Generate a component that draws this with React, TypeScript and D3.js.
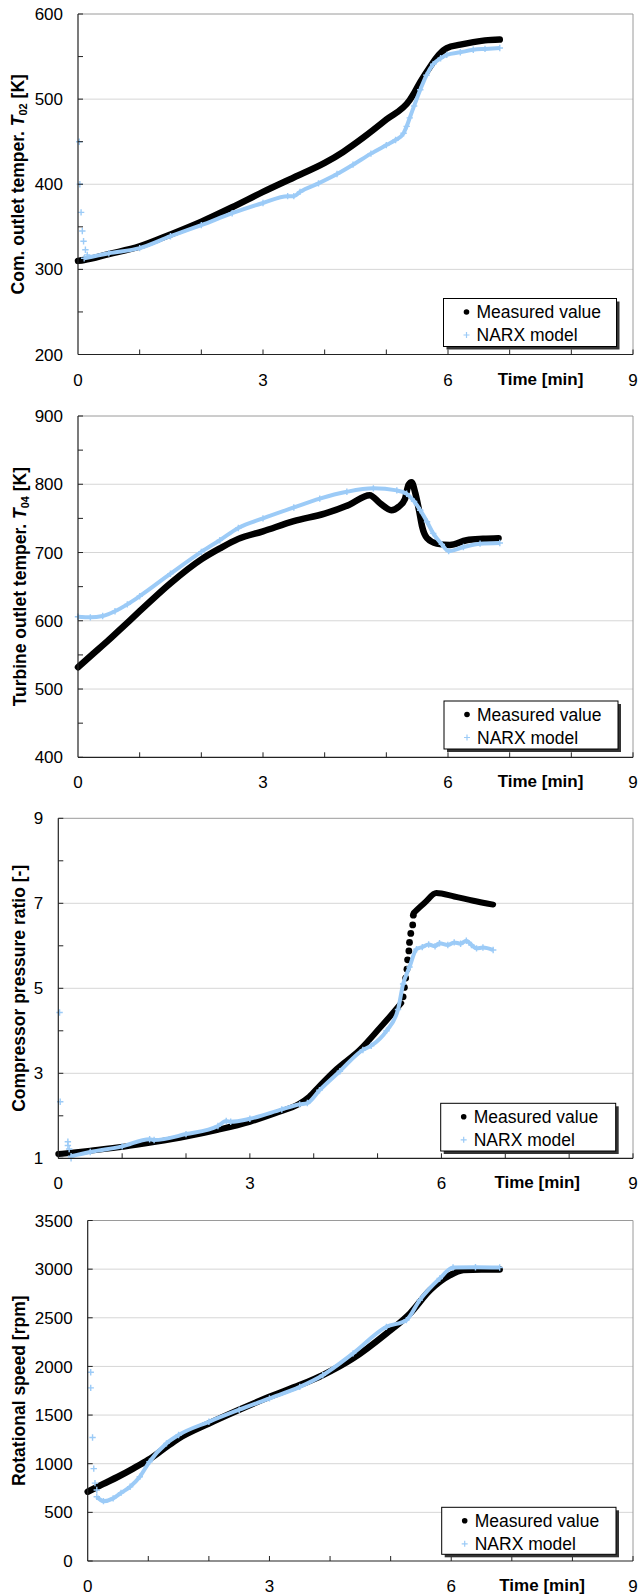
import React from "react";
import * as d3 from "d3";

// ---------- DATA ----------
const xTickLabels = [0, 3, 6, 9];
const xMinorTicks = [1, 2, 3, 4, 5, 6, 7, 8, 9];

// Panel 1: compressor outlet temperature T02 [K]
const p1YTicks = [200, 300, 400, 500, 600];
const p1YMinor = [250, 350, 450, 550];
const p1Measured: [number, number][] = [
  [0, 310], [0.1, 311], [0.5, 318], [1, 327], [1.5, 341], [2, 356], [2.5, 373], [3, 391],
  [3.5, 408], [4, 425], [4.3, 438], [4.63, 455], [5, 476], [5.38, 499], [5.45, 507],
  [5.55, 520], [5.71, 538], [5.85, 552], [5.98, 560], [6.2, 564], [6.41, 567], [6.6, 569], [6.84, 570],
];
const p1NarxOutliers: [number, number][] = [
  [0.02, 450], [0.03, 400], [0.05, 367], [0.07, 345], [0.09, 333], [0.12, 323], [0.15, 317],
];
const p1Narx: [number, number][] = [
  [0.1, 313], [0.5, 319], [1, 325], [1.5, 339], [2, 352], [2.5, 366], [3, 378], [3.4, 386],
  [3.5, 386], [3.6, 391], [3.9, 401], [4.2, 412], [4.46, 423], [4.75, 436], [5.0, 446],
  [5.15, 452], [5.28, 460], [5.33, 468], [5.38, 478], [5.45, 492], [5.55, 511], [5.65, 528],
  [5.76, 541], [5.88, 548], [5.98, 552], [6.2, 555], [6.41, 558], [6.6, 559], [6.84, 560],
];

// Panel 2: turbine outlet temperature T04 [K]
const p2YTicks = [400, 500, 600, 700, 800, 900];
const p2YMinor = [450, 550, 650, 750, 850];
const p2Measured: [number, number][] = [
  [0, 532], [0.25, 552], [0.5, 572], [0.75, 593], [1, 614], [1.5, 655], [2, 690], [2.3, 706],
  [2.6, 720], [3, 731], [3.5, 746], [4, 757], [4.4, 770], [4.73, 784], [4.9, 772], [5.08, 762],
  [5.2, 767], [5.3, 778], [5.36, 799], [5.41, 803], [5.47, 787], [5.53, 762], [5.58, 738],
  [5.66, 721], [5.82, 713], [6.03, 711], [6.3, 718], [6.57, 720], [6.82, 721],
];
const p2Narx: [number, number][] = [
  [0, 606], [0.2, 605], [0.4, 607], [0.6, 614], [0.8, 624], [1, 636], [1.5, 669], [2, 701],
  [2.3, 718], [2.6, 736], [3, 750], [3.5, 766], [3.92, 779], [4.36, 789], [4.79, 794],
  [5.17, 791], [5.33, 786], [5.45, 775], [5.55, 762], [5.66, 745], [5.76, 728], [5.9, 712],
  [6.01, 702], [6.25, 708], [6.52, 713], [6.84, 714],
];

// Panel 3: compressor pressure ratio [-]
const p3YTicks = [1, 3, 5, 7, 9];
const p3YMinor = [2, 4, 6, 8];
const p3MeasuredA: [number, number][] = [
  [0, 1.1], [0.5, 1.18], [1.02, 1.27], [1.5, 1.38], [2, 1.51], [2.5, 1.67], [3, 1.86],
  [3.4, 2.06], [3.78, 2.29], [3.93, 2.45], [4.09, 2.7], [4.36, 3.1], [4.72, 3.55],
  [5.03, 4.06], [5.2, 4.35], [5.37, 4.65],
];
const p3MeasuredJump: [number, number][] = [
  [5.4, 4.8], [5.42, 5.02], [5.44, 5.24], [5.46, 5.45], [5.47, 5.67], [5.49, 5.88],
  [5.5, 6.08], [5.52, 6.29], [5.55, 6.49], [5.56, 6.72],
];
const p3MeasuredB: [number, number][] = [
  [5.57, 6.78], [5.75, 7.03], [5.92, 7.24], [6.2, 7.16], [6.5, 7.06], [6.81, 6.97],
];
const p3NarxOutliers: [number, number][] = [
  [0.02, 4.43], [0.03, 2.33], [0.15, 1.39], [0.15, 1.3], [0.17, 1.22], [0.2, 1.0],
];
const p3Narx: [number, number][] = [
  [0.2, 1.05], [0.5, 1.15], [1, 1.28], [1.43, 1.45], [1.5, 1.43], [2, 1.57], [2.5, 1.76],
  [2.63, 1.88], [2.7, 1.86], [3, 1.93], [3.5, 2.15], [3.78, 2.27], [3.9, 2.3], [4.09, 2.6],
  [4.41, 3.05], [4.77, 3.55], [4.9, 3.65], [5.14, 4.0], [5.32, 4.5], [5.4, 5.1], [5.5, 5.5],
  [5.61, 5.92], [5.7, 5.97], [5.8, 6.03], [5.9, 5.99], [5.97, 6.06], [6.1, 6.02], [6.2, 6.08],
  [6.3, 6.05], [6.39, 6.12], [6.47, 6.02], [6.55, 5.94], [6.65, 5.96], [6.81, 5.9],
];

// Panel 4: rotational speed [rpm]
const p4YTicks = [0, 500, 1000, 1500, 2000, 2500, 3000, 3500];
const p4YMinor: number[] = [];
const p4Measured: [number, number][] = [
  [0, 712], [0.25, 790], [0.5, 866], [0.75, 950], [1, 1040], [1.25, 1150], [1.5, 1260],
  [2, 1414], [2.5, 1555], [3, 1688], [3.5, 1808], [3.88, 1911], [4.38, 2083], [4.93, 2339],
  [5.32, 2545], [5.65, 2784], [5.98, 2938], [6.2, 2990], [6.5, 2997], [6.8, 2997],
];
const p4NarxOutliers: [number, number][] = [
  [0.05, 1940], [0.05, 1780], [0.08, 1270], [0.1, 950], [0.12, 800], [0.15, 730],
];
const p4Narx: [number, number][] = [
  [0.15, 660], [0.26, 615], [0.42, 644], [0.55, 700], [0.7, 763], [0.86, 866], [1.02, 1020],
  [1.3, 1209], [1.5, 1295], [2, 1431], [2.5, 1555], [3, 1672], [3.5, 1790], [3.88, 1910],
  [4.38, 2134], [4.93, 2407], [5.26, 2476], [5.48, 2682], [5.81, 2904], [6.03, 3017],
  [6.4, 3020], [6.8, 3017],
];

const legendLabels = ["Measured value", "NARX model"];
const xAxisTitle = "Time [min]";

// ---------- STYLE / LAYOUT ----------
const FONT = "'Liberation Sans', Arial, Helvetica, sans-serif";
const BLACK = "#000";
const BLUE = "#9ccbf7";

type Pt = [number, number];
interface Panel {
  left: number; right: number; top: number; bottom: number;
  yTicks: number[]; yMinor: number[];
  measured: Pt[][]; measuredDots: Pt[]; mWidth: number;
  narx: Pt[]; narxOutliers: Pt[];
  legend: { x: number; y: number; w: number; h: number };
  title: React.ReactNode; titleX: number;
}

const panels: Panel[] = [
  {
    left: 78, right: 633, top: 14, bottom: 354.5,
    yTicks: p1YTicks, yMinor: p1YMinor,
    measured: [p1Measured], measuredDots: [], mWidth: 6.5,
    narx: p1Narx, narxOutliers: p1NarxOutliers,
    legend: { x: 443.5, y: 298.5, w: 173, h: 48 },
    title: (
      <>
        Com. outlet temper. <tspan fontStyle="italic">T</tspan>
        <tspan fontSize="11" dy="3">02</tspan>
        <tspan dy="-3"> [K]</tspan>
      </>
    ),
    titleX: 18,
  },
  {
    left: 78, right: 633, top: 416, bottom: 757.3,
    yTicks: p2YTicks, yMinor: p2YMinor,
    measured: [p2Measured], measuredDots: [], mWidth: 6.5,
    narx: p2Narx, narxOutliers: [],
    legend: { x: 444, y: 701, w: 174, h: 48 },
    title: (
      <>
        Turbine outlet temper. <tspan fontStyle="italic">T</tspan>
        <tspan fontSize="11" dy="3">04</tspan>
        <tspan dy="-3"> [K]</tspan>
      </>
    ),
    titleX: 19.5,
  },
  {
    left: 58.3, right: 633, top: 818.3, bottom: 1158.3,
    yTicks: p3YTicks, yMinor: p3YMinor,
    measured: [p3MeasuredA, p3MeasuredB], measuredDots: p3MeasuredJump, mWidth: 6,
    narx: p3Narx, narxOutliers: p3NarxOutliers,
    legend: { x: 440.7, y: 1103.3, w: 175, h: 47.7 },
    title: <>Compressor pressure ratio [-]</>,
    titleX: 18.5,
  },
  {
    left: 87.7, right: 633, top: 1220.5, bottom: 1561,
    yTicks: p4YTicks, yMinor: p4YMinor,
    measured: [p4Measured], measuredDots: [], mWidth: 6.5,
    narx: p4Narx, narxOutliers: p4NarxOutliers,
    legend: { x: 441.7, y: 1507.3, w: 174.3, h: 47 },
    title: <>Rotational speed [rpm]</>,
    titleX: 19,
  },
];

function Plus({ x, y, s = 3.2, w = 1.4 }: { x: number; y: number; s?: number; w?: number }) {
  return (
    <path d={`M${x - s},${y}H${x + s}M${x},${y - s}V${y + s}`} stroke={BLUE} strokeWidth={w} fill="none" />
  );
}

function ChartPanel({ p }: { p: Panel }) {
  const yd = [p.yTicks[0], p.yTicks[p.yTicks.length - 1]];
  const x = d3.scaleLinear().domain([0, 9]).range([p.left, p.right]);
  const y = d3.scaleLinear().domain(yd).range([p.bottom, p.top]);
  const line = d3.line<Pt>().x((d) => x(d[0])).y((d) => y(d[1])).curve(d3.curveMonotoneX);
  const midY = (p.top + p.bottom) / 2;
  const lg = p.legend;

  return (
    <g>
      {/* gridlines */}
      {p.yTicks.slice(1, -1).map((t) => (
        <line key={"g" + t} x1={p.left} x2={p.right} y1={y(t)} y2={y(t)} stroke="#d6d6d6" strokeWidth={1} />
      ))}
      {/* plot border top/right */}
      <line x1={p.left} x2={p.right} y1={p.top} y2={p.top} stroke="#9a9a9a" strokeWidth={1} />
      <line x1={p.right} x2={p.right} y1={p.top} y2={p.bottom} stroke="#9a9a9a" strokeWidth={1} />

      {/* series: measured */}
      {p.measured.map((seg, k) => (
        <path key={"m" + k} d={line(seg) || ""} stroke={BLACK} strokeWidth={p.mWidth} fill="none"
          strokeLinecap="round" strokeLinejoin="round" />
      ))}
      {p.measuredDots.map((d, i) => (
        <circle key={"d" + i} cx={x(d[0])} cy={y(d[1])} r={3.4} fill={BLACK} />
      ))}

      {/* series: NARX (plotted after, on top) */}
      <path d={line(p.narx) || ""} stroke={BLUE} strokeWidth={4} fill="none" strokeLinejoin="round" />
      {p.narx.map((d, i) => (
        <Plus key={"n" + i} x={x(d[0])} y={y(d[1])} />
      ))}
      {p.narxOutliers.map((d, i) => (
        <Plus key={"o" + i} x={x(d[0])} y={y(d[1])} />
      ))}

      {/* axes */}
      <line x1={p.left} x2={p.left} y1={p.top} y2={p.bottom} stroke="#222" strokeWidth={1.2} />
      <line x1={p.left} x2={p.right} y1={p.bottom} y2={p.bottom} stroke="#222" strokeWidth={1.2} />
      {/* y ticks (inside) */}
      {[...p.yTicks, ...p.yMinor].map((t) => (
        <line key={"yt" + t} x1={p.left} x2={p.left + 5} y1={y(t)} y2={y(t)} stroke="#222" strokeWidth={1} />
      ))}
      {/* x ticks (inside) */}
      {xMinorTicks.map((t) => (
        <line key={"xt" + t} x1={x(t)} x2={x(t)} y1={p.bottom} y2={p.bottom - 5} stroke="#222" strokeWidth={1} />
      ))}

      {/* y tick labels */}
      {p.yTicks.map((t) => (
        <text key={"yl" + t} x={p.left - 15} y={y(t)} dy="0.36em" textAnchor="end"
          fontFamily={FONT} fontSize={17} fill="#000">
          {t}
        </text>
      ))}
      {/* x tick labels */}
      {xTickLabels.map((t) => (
        <text key={"xl" + t} x={x(t)} y={p.bottom + 31} textAnchor="middle" fontFamily={FONT} fontSize={17} fill="#000">
          {t}
        </text>
      ))}
      <text x={x(7.5)} y={p.bottom + 30} textAnchor="middle" fontFamily={FONT} fontSize={17} fontWeight="bold" fill="#000">
        {xAxisTitle}
      </text>

      {/* y title */}
      <text transform={`translate(${p.titleX},${midY}) rotate(-90)`} dy="0.36em" textAnchor="middle"
        fontFamily={FONT} fontSize={17.5} fontWeight="bold" fill="#000">
        {p.title}
      </text>

      {/* legend */}
      <rect x={lg.x + 3} y={lg.y + 3} width={lg.w} height={lg.h} fill="#333" />
      <rect x={lg.x} y={lg.y} width={lg.w} height={lg.h} fill="#fff" stroke="#000" strokeWidth={1} />
      <circle cx={lg.x + 23} cy={lg.y + 13.5} r={2.8} fill={BLACK} />
      <Plus x={lg.x + 23} y={lg.y + 36.5} s={3} w={1.2} />
      {legendLabels.map((l, i) => (
        <text key={l} x={lg.x + 33} y={lg.y + 13.5 + i * 23} dy="0.36em" fontFamily={FONT} fontSize={17.5} fill="#000">
          {l}
        </text>
      ))}
    </g>
  );
}

export default function App() {
  return (
    <svg width={639} height={1596} style={{ position: "absolute", left: 0, top: 0, background: "#fff" }}>
      <rect x={0} y={0} width={639} height={1596} fill="#fff" />
      {panels.map((p, i) => (
        <ChartPanel key={i} p={p} />
      ))}
    </svg>
  );
}
